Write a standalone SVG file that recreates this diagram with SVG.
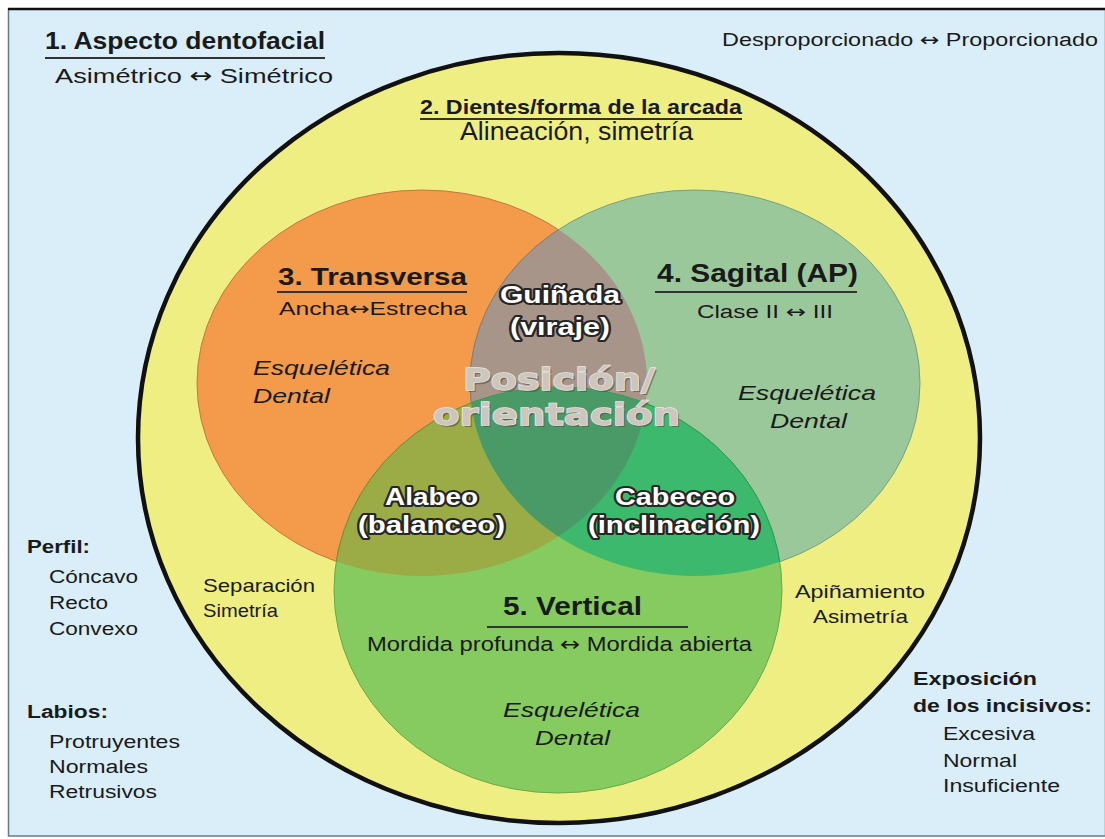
<svg xmlns="http://www.w3.org/2000/svg" width="1105" height="839" viewBox="0 0 1105 839">
<defs>
<style>
text{font-family:"Liberation Sans",Arial,sans-serif;fill:#1a1a1a}
.b{font-weight:bold}
.i{font-style:italic}
.a{font-family:"DejaVu Sans",sans-serif;font-weight:normal}
.w{font-weight:bold;fill:#ffffff;stroke:#262626;stroke-width:4;paint-order:stroke;stroke-linejoin:round}
.ps{font-family:"DejaVu Sans",sans-serif;font-weight:bold;fill:#4d4a42;opacity:0.55}
.p{font-family:"DejaVu Sans",sans-serif;font-weight:bold;fill:#cdc6bd;stroke:#ece8e2;stroke-width:1.4;paint-order:stroke}
.ul{stroke:#333;stroke-width:2}
</style>
<clipPath id="cO"><ellipse cx="422" cy="383" rx="225" ry="193"/></clipPath>
<clipPath id="cS"><ellipse cx="695" cy="383" rx="225" ry="193"/></clipPath>
</defs>
<rect x="0" y="0" width="1105" height="839" fill="#ffffff"/>
<rect x="8.5" y="9" width="1097" height="827" fill="#d9eef9" stroke="#6b7a80" stroke-width="1.5"/>
<line x1="8" y1="9" x2="1105" y2="9" stroke="#111" stroke-width="2.5"/>

<g id="outer">
<ellipse cx="559" cy="438" rx="421" ry="385" fill="#efee82" stroke="#111" stroke-width="4.5"/>
</g>

<g id="circles">
<g id="transversa"><ellipse cx="422" cy="383" rx="225" ry="193" fill="#f39a4b" stroke="#c07a40" stroke-width="1"/></g>
<g id="sagital"><ellipse cx="695" cy="383" rx="225" ry="193" fill="#9bc89b" stroke="#7aa07a" stroke-width="1"/></g>
<g id="guinada-region" clip-path="url(#cO)"><ellipse cx="695" cy="383" rx="225" ry="193" fill="#a8958a" stroke="#8a7a70" stroke-width="1"/></g>
<g id="vertical"><ellipse cx="558" cy="590" rx="224" ry="203" fill="#86cb5f" stroke="#6aa84a" stroke-width="1"/></g>
<g id="alabeo-region" clip-path="url(#cO)"><ellipse cx="558" cy="590" rx="224" ry="203" fill="#9bab46" stroke="#7a8a38" stroke-width="1"/></g>
<g id="cabeceo-region" clip-path="url(#cS)"><ellipse cx="558" cy="590" rx="224" ry="203" fill="#3cb96d" stroke="#2a9a58" stroke-width="1"/></g>
<g id="center-region" clip-path="url(#cS)"><g clip-path="url(#cO)"><ellipse cx="558" cy="590" rx="224" ry="203" fill="#4a9a68"/></g></g>
</g>

<g id="connectors"></g>

<g id="n1">
<text class="b" x="45" y="49" font-size="24" textLength="280" lengthAdjust="spacingAndGlyphs">1. Aspecto dentofacial</text>
<line class="ul" x1="45" y1="58" x2="325" y2="58"/>
<text x="55" y="83" font-size="21" textLength="278" lengthAdjust="spacingAndGlyphs">Asimétrico <tspan class="a">↔</tspan> Simétrico</text>
<text x="722" y="46" font-size="18" textLength="376" lengthAdjust="spacingAndGlyphs">Desproporcionado <tspan class="a">↔</tspan> Proporcionado</text>
</g>

<g id="n2">
<text class="b" x="420" y="114" font-size="21" textLength="322" lengthAdjust="spacingAndGlyphs">2. Dientes/forma de la arcada</text>
<line class="ul" x1="420" y1="119" x2="742" y2="119"/>
<text x="460" y="140" font-size="25" textLength="233" lengthAdjust="spacingAndGlyphs">Alineación, simetría</text>
</g>

<g id="n3">
<text class="b" x="278" y="285" font-size="24" textLength="189" lengthAdjust="spacingAndGlyphs">3. Transversa</text>
<line class="ul" x1="277" y1="292" x2="467" y2="292"/>
<text x="279" y="315" font-size="18" textLength="188" lengthAdjust="spacingAndGlyphs">Ancha<tspan class="a">↔</tspan>Estrecha</text>
<text class="i" x="253" y="375" font-size="21" textLength="137" lengthAdjust="spacingAndGlyphs">Esquelética</text>
<text class="i" x="253" y="403" font-size="21" textLength="77" lengthAdjust="spacingAndGlyphs">Dental</text>
</g>

<g id="n4">
<text class="b" x="657" y="282" font-size="25" textLength="201" lengthAdjust="spacingAndGlyphs">4. Sagital (AP)</text>
<line class="ul" x1="655" y1="292" x2="857" y2="292"/>
<text x="697" y="318" font-size="18" textLength="136" lengthAdjust="spacingAndGlyphs">Clase II <tspan class="a">↔</tspan> III</text>
<text class="i" x="738" y="400" font-size="21" textLength="138" lengthAdjust="spacingAndGlyphs">Esquelética</text>
<text class="i" x="770" y="428" font-size="21" textLength="77" lengthAdjust="spacingAndGlyphs">Dental</text>
</g>

<g id="n5">
<text class="b" x="503" y="615" font-size="25" textLength="139" lengthAdjust="spacingAndGlyphs">5. Vertical</text>
<line class="ul" x1="487" y1="627" x2="688" y2="627"/>
<text x="367" y="651" font-size="20" textLength="385" lengthAdjust="spacingAndGlyphs">Mordida profunda <tspan class="a">↔</tspan> Mordida abierta</text>
<text class="i" x="503" y="717" font-size="21" textLength="137" lengthAdjust="spacingAndGlyphs">Esquelética</text>
<text class="i" x="535" y="745" font-size="21" textLength="75" lengthAdjust="spacingAndGlyphs">Dental</text>
</g>

<g id="guinada">
<text class="w" x="500" y="303" font-size="24" textLength="120" lengthAdjust="spacingAndGlyphs">Guiñada</text>
<text class="w" x="510" y="335" font-size="24" textLength="100" lengthAdjust="spacingAndGlyphs">(viraje)</text>
</g>

<g id="posicion">
<text class="ps" x="465" y="392" font-size="31" textLength="192" lengthAdjust="spacingAndGlyphs">Posición/</text>
<text class="ps" x="435" y="427" font-size="31" textLength="247" lengthAdjust="spacingAndGlyphs">orientación</text>
<text class="p" x="463" y="390" font-size="31" textLength="192" lengthAdjust="spacingAndGlyphs">Posición/</text>
<text class="p" x="433" y="425" font-size="31" textLength="247" lengthAdjust="spacingAndGlyphs">orientación</text>
</g>

<g id="alabeo">
<text class="w" x="385" y="505" font-size="24" textLength="93" lengthAdjust="spacingAndGlyphs">Alabeo</text>
<text class="w" x="358" y="533" font-size="24" textLength="147" lengthAdjust="spacingAndGlyphs">(balanceo)</text>
</g>

<g id="cabeceo">
<text class="w" x="615" y="505" font-size="24" textLength="120" lengthAdjust="spacingAndGlyphs">Cabeceo</text>
<text class="w" x="588" y="533" font-size="24" textLength="172" lengthAdjust="spacingAndGlyphs">(inclinación)</text>
</g>

<g id="separacion">
<text x="203" y="592" font-size="19" textLength="112" lengthAdjust="spacingAndGlyphs">Separación</text>
<text x="203" y="617" font-size="19" textLength="75" lengthAdjust="spacingAndGlyphs">Simetría</text>
</g>

<g id="apinamiento">
<text x="795" y="598" font-size="19" textLength="130" lengthAdjust="spacingAndGlyphs">Apiñamiento</text>
<text x="813" y="623" font-size="19" textLength="95" lengthAdjust="spacingAndGlyphs">Asimetría</text>
</g>

<g id="perfil">
<text class="b" x="27" y="553" font-size="18" textLength="63" lengthAdjust="spacingAndGlyphs">Perfil:</text>
<text x="49" y="583" font-size="18" textLength="89" lengthAdjust="spacingAndGlyphs">Cóncavo</text>
<text x="49" y="609" font-size="18" textLength="59" lengthAdjust="spacingAndGlyphs">Recto</text>
<text x="49" y="635" font-size="18" textLength="89" lengthAdjust="spacingAndGlyphs">Convexo</text>
</g>

<g id="labios">
<text class="b" x="27" y="718" font-size="18" textLength="81" lengthAdjust="spacingAndGlyphs">Labios:</text>
<text x="49" y="748" font-size="18" textLength="131" lengthAdjust="spacingAndGlyphs">Protruyentes</text>
<text x="49" y="773" font-size="18" textLength="99" lengthAdjust="spacingAndGlyphs">Normales</text>
<text x="49" y="798" font-size="18" textLength="108" lengthAdjust="spacingAndGlyphs">Retrusivos</text>
</g>

<g id="exposicion">
<text class="b" x="913" y="685" font-size="18" textLength="124" lengthAdjust="spacingAndGlyphs">Exposición</text>
<text class="b" x="913" y="712" font-size="18" textLength="179" lengthAdjust="spacingAndGlyphs">de los incisivos:</text>
<text x="943" y="740" font-size="18" textLength="92" lengthAdjust="spacingAndGlyphs">Excesiva</text>
<text x="943" y="767" font-size="18" textLength="74" lengthAdjust="spacingAndGlyphs">Normal</text>
<text x="943" y="792" font-size="18" textLength="117" lengthAdjust="spacingAndGlyphs">Insuficiente</text>
</g>
</svg>
